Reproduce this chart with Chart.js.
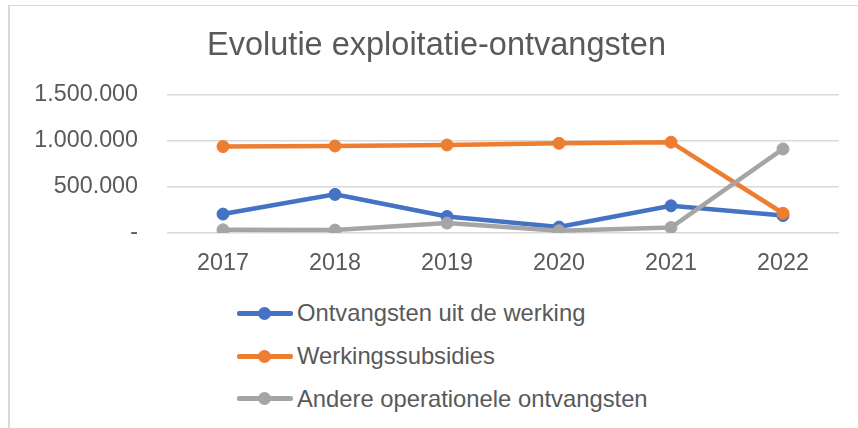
<!DOCTYPE html>
<html lang="nl">
<head>
    <meta charset="UTF-8">
    <title>Evolutie exploitatie-ontvangsten</title>
    <script src="https://cdn.jsdelivr.net/npm/chart.js"></script>
    <style>
        body {
            margin: 0;
            padding: 0;
            background: white;
            font-family: "Liberation Sans", Arial, sans-serif;
        }
        .frame {
            position: absolute;
            left: 8px;
            top: 5px;
            width: 850px;
            height: 423px;
            border-top: 1px solid #d9d9d9;
            border-left: 2px solid #d9d9d9;
        }
        #chart {
            position: absolute;
            left: 10px;
            top: 6px;
        }
        .legend {
            position: absolute;
            left: 237px;
            top: 292px;
        }
        .legend-item {
            height: 42.7px;
            display: flex;
            align-items: center;
            font-size: 23.8px;
            color: #595959;
        }
        .legend-icon {
            position: relative;
            width: 56px;
            height: 5px;
            border-radius: 2px;
            margin-right: 4px;
        }
        .legend-icon span {
            position: absolute;
            left: 21px;
            top: -4px;
            width: 13px;
            height: 13px;
            border-radius: 50%;
        }
    </style>
</head>
<body>
    <div class="frame"></div>
    <canvas id="chart" width="848" height="282"></canvas>
    <div class="legend" id="legend"></div>

    <script>
        const years = ["2017", "2018", "2019", "2020", "2021", "2022"];
        const seriesNames = ["Ontvangsten uit de werking", "Werkingssubsidies", "Andere operationele ontvangsten"];
        const ontvangstenWerking = [206000, 420000, 180000, 65000, 296000, 190000];
        const werkingssubsidies = [940000, 946000, 957000, 975000, 987000, 215000];
        const andereOntvangsten = [35000, 32000, 108000, 25000, 60000, 914000];
        const colors = ["#4472C4", "#ED7D31", "#A5A5A5"];
        const textColor = "#595959";
        const fontFamily = "'Liberation Sans', Arial, sans-serif";

        function formatNumber(v) {
            if (v === 0) return "-";
            return String(Math.round(v)).replace(/\B(?=(\d{3})+(?!\d))/g, ".");
        }

        function makeDataset(i, values) {
            return {
                label: seriesNames[i],
                data: values,
                borderColor: colors[i],
                backgroundColor: colors[i],
                pointBackgroundColor: colors[i],
                pointBorderColor: colors[i],
                borderWidth: 4.5,
                pointRadius: 6,
                pointBorderWidth: 1,
                tension: 0,
                fill: false,
                order: 3 - i
            };
        }

        const chart = new Chart(document.getElementById("chart").getContext("2d"), {
            type: "line",
            data: {
                labels: years,
                datasets: [
                    makeDataset(0, ontvangstenWerking),
                    makeDataset(1, werkingssubsidies),
                    makeDataset(2, andereOntvangsten)
                ]
            },
            options: {
                responsive: false,
                animation: false,
                devicePixelRatio: 1,
                // left padding shifts the centred title a bit to the right
                layout: { padding: { left: 24, right: 19, top: 0, bottom: 1 } },
                plugins: {
                    legend: { display: false },
                    tooltip: { enabled: false },
                    title: {
                        display: true,
                        text: "Evolutie exploitatie-ontvangsten",
                        color: textColor,
                        font: { family: fontFamily, size: 32.5, weight: "normal" },
                        padding: { top: 21, bottom: 29 }
                    }
                },
                scales: {
                    x: {
                        offset: true,
                        grid: { display: false },
                        border: { display: false },
                        ticks: {
                            color: textColor,
                            padding: 9,
                            font: { family: fontFamily, size: 23.3 }
                        }
                    },
                    y: {
                        min: 0,
                        max: 1500000,
                        border: { display: false },
                        grid: { color: "#d9d9d9", lineWidth: 1.5, drawTicks: false },
                        afterFit: function (scale) { scale.width = 133; },
                        ticks: {
                            stepSize: 500000,
                            color: textColor,
                            padding: 29,
                            font: { family: fontFamily, size: 23.3 },
                            callback: function (value) { return formatNumber(value); }
                        }
                    }
                }
            }
        });

        // legend stacked one item per row, like the original
        const legend = document.getElementById("legend");
        chart.data.datasets.forEach(function (ds) {
            const row = document.createElement("div");
            row.className = "legend-item";
            const icon = document.createElement("div");
            icon.className = "legend-icon";
            icon.style.background = ds.borderColor;
            const dot = document.createElement("span");
            dot.style.background = ds.borderColor;
            icon.appendChild(dot);
            row.appendChild(icon);
            row.appendChild(document.createTextNode(ds.label));
            legend.appendChild(row);
        });
    </script>
</body>
</html>
